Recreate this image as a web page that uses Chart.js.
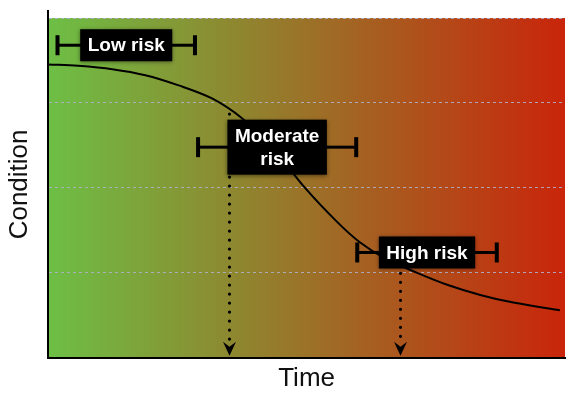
<!DOCTYPE html>
<html>
<head>
<meta charset="utf-8">
<script src="https://cdn.jsdelivr.net/npm/chart.js@4/dist/chart.umd.min.js"></script>
<style>
  html, body { margin: 0; padding: 0; background: #fff; }
  #wrap { width: 583px; height: 399px; }
</style>
</head>
<body>
<div id="wrap"><canvas id="myChart"></canvas></div>
<script>
// condition curve over time
const timeVals = [0, 0.58, 1.24, 1.88, 2.51, 3.17, 3.75, 4.33, 4.97, 5.59, 6.03, 6.52, 7.14, 7.72, 8.36, 9.0, 9.9];
const conditionVals = [3.454, 3.437, 3.398, 3.327, 3.21, 3.053, 2.82, 2.48, 2.0, 1.60, 1.36, 1.17, 1.0, 0.86, 0.74, 0.65, 0.56];

// risk bands (label, centre, half width, level)
const riskNames = [['Low risk'], ['Moderate', 'risk'], ['High risk']];
const riskCenter = [1.51, 4.43, 7.33];
const riskHalf = [1.33, 1.53, 1.35];
const riskLevel = [3.68, 2.48, 1.24];

// dotted arrows dropping from the curve
const arrowX = [3.5, 6.81];
const arrowTop = [2.87, 1.1];

const gridLevels = [0, 1, 2, 3, 4];

const riskPlugin = {
  id: 'riskPlugin',
  beforeDraw(chart) {
    const {ctx, chartArea, scales} = chart;
    const top = scales.y.getPixelForValue(4);
    const g = ctx.createLinearGradient(chartArea.left, 0, chartArea.right, 0);
    g.addColorStop(0, '#6dbf45');
    g.addColorStop(1, '#c9250b');
    ctx.save();
    ctx.fillStyle = g;
    ctx.fillRect(chartArea.left, top, chartArea.right - chartArea.left, chartArea.bottom - top);
    ctx.restore();
  },
  afterDatasetsDraw(chart) {
    const {ctx, scales} = chart;
    const xs = scales.x, ys = scales.y;
    ctx.save();
    // arrows
    arrowX.forEach(function (v, i) {
      const px = Math.round(xs.getPixelForValue(v)) + 0.5;
      const y0 = ys.getPixelForValue(arrowTop[i]);
      const y1 = ys.getPixelForValue(0) - 2;
      ctx.strokeStyle = '#000';
      ctx.lineWidth = 3.2;
      ctx.lineCap = 'round';
      ctx.setLineDash([0, 9]);
      ctx.beginPath();
      ctx.moveTo(px, y0);
      ctx.lineTo(px, y1 - 12);
      ctx.stroke();
      ctx.setLineDash([]);
      ctx.fillStyle = '#000';
      ctx.beginPath();
      ctx.moveTo(px, y1);
      ctx.lineTo(px - 6.5, y1 - 14);
      ctx.lineTo(px, y1 - 9);
      ctx.lineTo(px + 6.5, y1 - 14);
      ctx.closePath();
      ctx.fill();
    });
    // risk bars + labels
    ctx.font = 'bold 19px "Liberation Sans", Arial, sans-serif';
    ctx.textAlign = 'center';
    ctx.textBaseline = 'middle';
    riskNames.forEach(function (lines, i) {
      const cx = xs.getPixelForValue(riskCenter[i]);
      const x0 = xs.getPixelForValue(riskCenter[i] - riskHalf[i]);
      const x1 = xs.getPixelForValue(riskCenter[i] + riskHalf[i]);
      const cy = ys.getPixelForValue(riskLevel[i]);
      ctx.fillStyle = '#000';
      ctx.fillRect(x0, cy - 1.5, x1 - x0, 3);
      ctx.fillRect(x0 - 2, cy - 10, 4, 20);
      ctx.fillRect(x1 - 2, cy - 10, 4, 20);
      let w = 0;
      lines.forEach(function (t) { w = Math.max(w, ctx.measureText(t).width); });
      const bw = w + 15;
      const bh = 32 + (lines.length - 1) * 23;
      ctx.save();
      ctx.shadowColor = 'rgba(0,0,0,0.45)';
      ctx.shadowBlur = 4;
      ctx.shadowOffsetY = 1;
      ctx.fillRect(cx - bw / 2, cy - bh / 2, bw, bh);
      ctx.restore();
      ctx.fillStyle = '#fff';
      lines.forEach(function (t, k) {
        ctx.fillText(t, cx, cy - (lines.length - 1) * 11.5 + k * 23 + 1);
      });
    });
    ctx.restore();
  }
};

const data = {
  datasets: [{
    data: timeVals.map(function (t, i) { return {x: t, y: conditionVals[i]}; }),
    borderColor: '#000',
    borderWidth: 2,
    pointRadius: 0,
    showLine: true,
    fill: false,
    tension: 0.35
  }]
};

const config = {
  type: 'scatter',
  data: data,
  options: {
    responsive: true,
    maintainAspectRatio: false,
    animation: false,
    layout: { padding: { top: 11, right: 18, bottom: 0, left: 0 } },
    plugins: { legend: { display: false }, tooltip: { enabled: false } },
    scales: {
      x: {
        type: 'linear',
        min: 0,
        max: 10,
        grid: { display: false, drawTicks: false },
        ticks: { display: false },
        border: { color: '#000', width: 2 },
        title: {
          display: true,
          text: 'Time',
          color: '#111',
          font: { family: '"Liberation Sans", Arial, sans-serif', size: 26, weight: 'normal', lineHeight: 1.2 },
          padding: { top: 5, bottom: 5 }
        }
      },
      y: {
        min: 0,
        max: 4.083,
        afterBuildTicks: function (s) {
          s.ticks = gridLevels.map(function (v) { return {value: v}; });
        },
        ticks: { display: false },
        grid: {
          drawTicks: false,
          lineWidth: 1,
          color: function (c) {
            return c.tick && c.tick.value > 0 ? 'rgba(175,175,200,0.9)' : 'rgba(0,0,0,0)';
          }
        },
        border: { color: '#000', width: 2, dash: [3, 3] },
        title: {
          display: true,
          text: 'Condition',
          color: '#111',
          font: { family: '"Liberation Sans", Arial, sans-serif', size: 26, weight: 'normal', lineHeight: 1.2 },
          padding: { top: 4, bottom: 13 }
        }
      }
    }
  },
  plugins: [riskPlugin]
};

const myChart = new Chart(document.getElementById('myChart'), config);
</script>
</body>
</html>
